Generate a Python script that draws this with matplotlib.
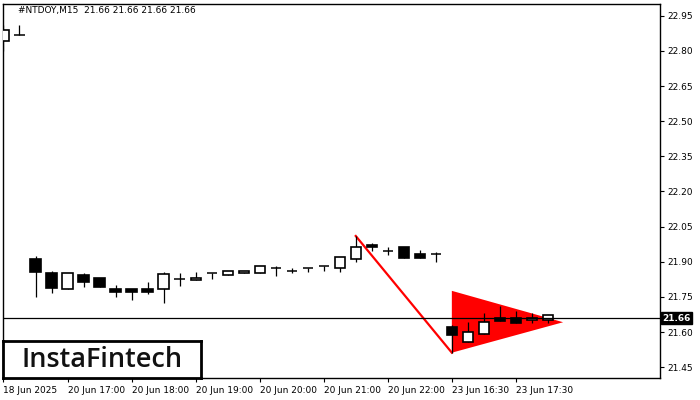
import matplotlib.pyplot as plt
import numpy as np

# candle data (M15 bars, left to right)
opens = [22.84, 22.868, 21.911, 21.851, 21.783, 21.844, 21.830, 21.783, 21.783, 21.783,
         21.783, 21.825, 21.821, 21.854, 21.844, 21.851, 21.851, 21.872, 21.862, 21.872,
         21.882, 21.872, 21.911, 21.973, 21.947, 21.962, 21.933, 21.933,
         21.621, 21.559, 21.591, 21.659, 21.659, 21.650, 21.652]
closes = [22.89, 22.868, 21.858, 21.790, 21.851, 21.813, 21.791, 21.770, 21.770, 21.770,
          21.848, 21.825, 21.832, 21.854, 21.861, 21.862, 21.882, 21.872, 21.862, 21.872,
          21.882, 21.919, 21.962, 21.962, 21.947, 21.918, 21.918, 21.933,
          21.589, 21.599, 21.642, 21.649, 21.640, 21.659, 21.672]
highs = [22.91, 22.91, 21.925, 21.861, 21.851, 21.854, 21.830, 21.801, 21.783, 21.813,
         21.858, 21.854, 21.855, 21.854, 21.861, 21.862, 21.882, 21.882, 21.875, 21.872,
         21.882, 21.919, 22.010, 21.979, 21.965, 21.962, 21.950, 21.943,
         21.630, 21.643, 21.680, 21.712, 21.690, 21.680, 21.672]
lows = [22.80, 22.868, 21.751, 21.768, 21.783, 21.791, 21.791, 21.751, 21.737, 21.761,
        21.723, 21.798, 21.821, 21.828, 21.844, 21.851, 21.851, 21.841, 21.851, 21.858,
        21.861, 21.858, 21.900, 21.947, 21.929, 21.918, 21.918, 21.900,
        21.512, 21.559, 21.591, 21.649, 21.640, 21.640, 21.640]

tick_pos = [0, 4, 8, 12, 16, 20, 24, 28, 32]
tick_labels = ["18 Jun 2025", "20 Jun 17:00", "20 Jun 18:00", "20 Jun 19:00", "20 Jun 20:00",
               "20 Jun 21:00", "20 Jun 22:00", "23 Jun 16:30", "23 Jun 17:30"]
price_ticks = [21.45, 21.60, 21.75, 21.90, 22.05, 22.20, 22.35, 22.50, 22.65, 22.80, 22.95]
last_price = 21.66

# pattern: pole and pennant
pole_x = [22, 28]
pole_y = [22.01, 21.512]
pennant_x = [28, 28, 34.95]
pennant_y = [21.776, 21.512, 21.642]

fig = plt.figure(figsize=(7, 4), dpi=100)
ax = fig.add_axes([3 / 700, 22 / 400, 657 / 700, 374 / 400])

x = np.arange(len(opens))
o = np.array(opens)
c = np.array(closes)
h = np.array(highs)
l = np.array(lows)

# red pattern behind the candles
ax.fill(pennant_x, pennant_y, color="red", zorder=1, lw=0)
ax.plot(pole_x, pole_y, color="red", lw=1.6, zorder=1)

# wicks
ax.vlines(x, l, h, color="black", lw=0.9, zorder=2)

w = 0.64
doji = np.isclose(o, c)
body = ~doji
up = body & (c > o)
down = body & (c < o)
ax.bar(x[up], (c - o)[up], bottom=o[up], width=w, facecolor="white",
       edgecolor="black", lw=1.2, zorder=3)
ax.bar(x[down], (o - c)[down], bottom=c[down], width=w, facecolor="black",
       edgecolor="black", lw=1.2, zorder=3)
ax.hlines(o[doji], x[doji] - w / 2, x[doji] + w / 2, color="black", lw=1.1, zorder=3)

# last price line
ax.axhline(last_price, color="black", lw=0.9, zorder=4)

ax.set_xlim(-0.03, 41.0)
ax.set_ylim(21.404, 23.0)

ax.yaxis.tick_right()
ax.set_yticks(price_ticks)
ax.set_yticklabels([f"{p:.2f}" for p in price_ticks])
ax.set_xticks(tick_pos)
ax.set_xticklabels(tick_labels, ha="left")
ax.tick_params(axis="both", labelsize=6.5, length=3, width=0.8, colors="black", pad=2)
ax.tick_params(axis="x", pad=3)
for s in ax.spines.values():
    s.set_linewidth(1.0)
    s.set_color("black")

# last price tag
ax.text(1.003, last_price, f"{last_price:.2f}", transform=ax.get_yaxis_transform(),
        ha="left", va="center", fontsize=6.5, color="white", fontweight="bold",
        bbox=dict(boxstyle="square,pad=0.15", fc="black", ec="black"))

fig.text(18 / 700, 1 - 11 / 400, "#NTDOY,M15  21.66 21.66 21.66 21.66",
         fontsize=6.5, va="center", ha="left", color="black")

# logo box
logo = fig.add_axes([3 / 700, 22 / 400, 198 / 700, 37 / 400])
logo.set_xticks([])
logo.set_yticks([])
for s in logo.spines.values():
    s.set_linewidth(2)
logo.text(0.5, 0.48, "InstaFintech", ha="center", va="center", fontsize=19.5,
          family="Open Sans", fontweight="semibold", color="#111111",
          transform=logo.transAxes)

fig.savefig("out.png", dpi=100)
